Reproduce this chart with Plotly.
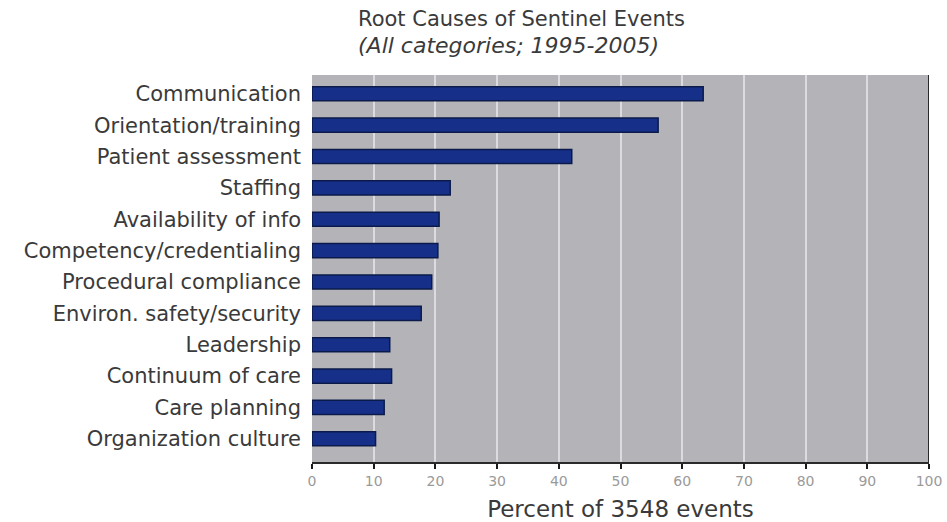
import plotly.graph_objects as go

# Root causes, top to bottom, with percent of 3548 sentinel events
causes = [
    "Communication",
    "Orientation/training",
    "Patient assessment",
    "Staffing",
    "Availability of info",
    "Competency/credentialing",
    "Procedural compliance",
    "Environ. safety/security",
    "Leadership",
    "Continuum of care",
    "Care planning",
    "Organization culture",
]
percent = [63.4, 56.1, 42.1, 22.4, 20.6, 20.4, 19.4, 17.7, 12.6, 12.9, 11.7, 10.3]
x_ticks = [0, 10, 20, 30, 40, 50, 60, 70, 80, 90, 100]

FONT = "DejaVu Sans"
TEXT = "#3a3a3a"

W, H = 947, 522
L, R, T, B = 312, 18, 75, 60
PW, PH = W - L - R, H - T - B

fig = go.Figure(
    go.Bar(
        x=percent,
        y=causes,
        orientation="h",
        width=0.45,
        marker=dict(color="#16308a", line=dict(color="#0b1a4a", width=1.5)),
        hoverinfo="x+y",
    )
)

fig.update_layout(
    width=W,
    height=H,
    margin=dict(l=L, r=R, t=T, b=B, autoexpand=False),
    paper_bgcolor="white",
    plot_bgcolor="#b4b4b8",
    showlegend=False,
    annotations=[
        dict(
            text="Root Causes of Sentinel Events",
            xref="paper", yref="paper",
            x=(356 - L) / PW, y=1 + (T - 19) / PH,
            xanchor="left", yanchor="middle", showarrow=False,
            font=dict(family=FONT, size=21, color=TEXT),
        ),
        dict(
            text="<i>(All categories; 1995-2005)</i>",
            xref="paper", yref="paper",
            x=(356 - L) / PW, y=1 + (T - 45) / PH,
            xanchor="left", yanchor="middle", showarrow=False,
            font=dict(family=FONT, size=22, color=TEXT),
        ),
    ],
    shapes=[
        # dark right-hand frame edge
        dict(type="line", xref="x", yref="paper", x0=100, x1=100, y0=0, y1=1,
             line=dict(color="#2a2a2a", width=2)),
    ],
)

fig.update_xaxes(
    range=[0, 100],
    tickvals=x_ticks,
    ticktext=[str(v) for v in x_ticks],
    automargin=False,
    showgrid=True,
    gridcolor="#dcdce0",
    gridwidth=2,
    zeroline=False,
    showline=True,
    linecolor="#2a2a2a",
    linewidth=2,
    ticks="outside",
    ticklen=5,
    tickwidth=2,
    tickcolor="#1a1a1a",
    tickfont=dict(family=FONT, size=14, color="#9a9a9a"),
    title=dict(text="Percent of 3548 events", standoff=22,
               font=dict(family=FONT, size=23, color=TEXT)),
)

fig.update_yaxes(
    categoryorder="array",
    categoryarray=causes,
    range=[11.74, -0.6],
    automargin=False,
    showgrid=False,
    zeroline=False,
    showline=False,
    ticks="",
    ticklabelstandoff=10,
    tickfont=dict(family=FONT, size=21, color=TEXT),
)

fig.write_html("out.html")
